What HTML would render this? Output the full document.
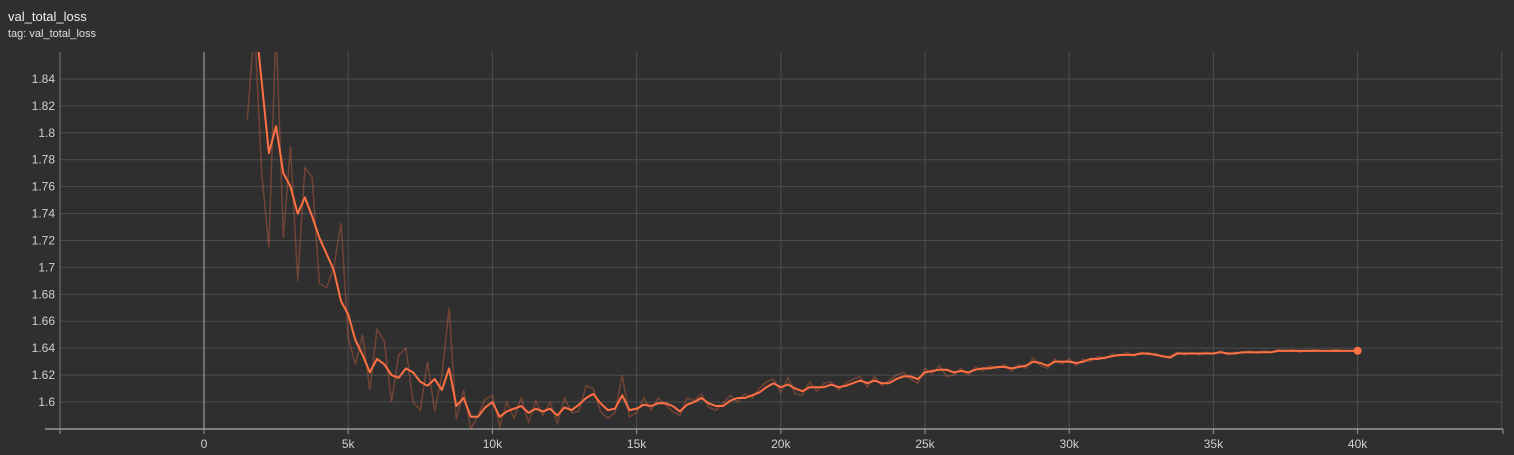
<!DOCTYPE html>
<html><head><meta charset="utf-8">
<style>
html,body{margin:0;padding:0;background:#2f2f2f;width:1514px;height:455px;overflow:hidden;font-family:"Liberation Sans",sans-serif}
#title{position:absolute;left:8px;top:9px;color:#f0f0f0;font-size:13px}
#sub{position:absolute;left:8px;top:28px;color:#e0e0e0;font-size:11px}
svg{position:absolute;left:0;top:0}
</style></head><body>
<div id="title">val_total_loss</div>
<div id="sub">tag: val_total_loss</div>
<svg id="chart" width="1514" height="455"></svg>
<script>
const STEP0 = 1500;
const STEP_DT = 250;
const smoothed = [1.95,1.89,1.838,1.785,1.805,1.77,1.76,1.74,1.752,1.738,1.722,1.71,1.698,1.675,1.665,1.646,1.635,1.622,1.632,1.628,1.62,1.618,1.625,1.622,1.615,1.612,1.617,1.609,1.625,1.597,1.603,1.589,1.589,1.596,1.6,1.589,1.593,1.595,1.597,1.592,1.595,1.593,1.595,1.59,1.596,1.594,1.598,1.603,1.606,1.599,1.594,1.595,1.605,1.594,1.595,1.598,1.597,1.599,1.599,1.597,1.593,1.598,1.6,1.603,1.599,1.597,1.597,1.601,1.603,1.603,1.605,1.607,1.611,1.614,1.611,1.613,1.61,1.608,1.611,1.611,1.611,1.613,1.611,1.612,1.614,1.616,1.614,1.616,1.614,1.614,1.617,1.619,1.619,1.617,1.622,1.623,1.624,1.624,1.622,1.623,1.622,1.624,1.625,1.625,1.626,1.626,1.625,1.626,1.627,1.63,1.629,1.627,1.63,1.63,1.63,1.629,1.63,1.632,1.632,1.633,1.634,1.635,1.635,1.635,1.636,1.636,1.635,1.634,1.633,1.636,1.636,1.636,1.636,1.636,1.636,1.637,1.636,1.636,1.637,1.637,1.637,1.637,1.637,1.638,1.638,1.638,1.638,1.638,1.638,1.638,1.638,1.638,1.638,1.638,1.638];
const raw = [1.81,1.88,1.77,1.715,1.88,1.722,1.79,1.69,1.774,1.767,1.688,1.685,1.7,1.733,1.648,1.628,1.65,1.609,1.654,1.645,1.6,1.635,1.64,1.6,1.594,1.63,1.593,1.62,1.67,1.587,1.609,1.58,1.59,1.602,1.605,1.582,1.6,1.588,1.603,1.585,1.601,1.59,1.6,1.584,1.603,1.592,1.593,1.612,1.61,1.593,1.588,1.592,1.62,1.589,1.592,1.603,1.594,1.603,1.598,1.593,1.59,1.603,1.601,1.606,1.596,1.594,1.599,1.605,1.6,1.606,1.603,1.61,1.615,1.617,1.607,1.618,1.606,1.605,1.615,1.608,1.614,1.615,1.609,1.614,1.617,1.619,1.611,1.619,1.612,1.616,1.62,1.622,1.617,1.614,1.625,1.621,1.627,1.619,1.62,1.625,1.62,1.626,1.623,1.627,1.625,1.628,1.623,1.628,1.625,1.633,1.627,1.625,1.632,1.628,1.632,1.627,1.632,1.63,1.634,1.632,1.636,1.634,1.637,1.634,1.637,1.635,1.636,1.633,1.634,1.637,1.635,1.637,1.635,1.637,1.636,1.638,1.635,1.637,1.636,1.638,1.636,1.638,1.637,1.639,1.638,1.639,1.637,1.638,1.639,1.638,1.638,1.639,1.638,1.638,1.638];
const xTickValues = [0,5000,10000,15000,20000,25000,30000,35000,40000];
const xTickLabels = ["0","5k","10k","15k","20k","25k","30k","35k","40k"];
const yTickValues = [1.6,1.62,1.64,1.66,1.68,1.7,1.72,1.74,1.76,1.78,1.8,1.82,1.84];
const yTickLabels = ["1.6","1.62","1.64","1.66","1.68","1.7","1.72","1.74","1.76","1.78","1.8","1.82","1.84"];

const L=60,R=1503,T=52,B=429;
function xs(v){return 204+(v/5000)*144.2;}
function ys(v){return 402+(1.6-v)/0.02*26.92;}
const NS='http://www.w3.org/2000/svg';
const svg=document.getElementById('chart');
function mk(tag,attrs,parent){const e=document.createElementNS(NS,tag);for(const k in attrs)e.setAttribute(k,attrs[k]);(parent||svg).appendChild(e);return e;}

const defs=mk('defs',{});
const cp=mk('clipPath',{id:'clip'},defs);
mk('rect',{x:L,y:T,width:R-L,height:B-T},cp);

yTickValues.forEach((v,i)=>{
  const g=mk('line',{x1:L,x2:R,y1:ys(v),y2:ys(v),stroke:'#4d4d4d','stroke-width':1});
  
  
  const t=mk('text',{x:L-5,y:ys(v)+4,'text-anchor':'end',fill:'#d0d0d0','font-size':'12','font-family':'Liberation Sans, sans-serif'});
  t.textContent=yTickLabels[i];
  
  
});
const vgrid=[5000,10000,15000,20000,25000,30000,35000,40000,45000];
vgrid.forEach(v=>{
  const g=mk('line',{x1:xs(v),x2:xs(v),y1:T,y2:B,stroke:'#4d4d4d','stroke-width':1});
  
  
});
const z=mk('line',{x1:xs(0),x2:xs(0),y1:T,y2:B,stroke:'#9a9a9a','stroke-width':1.2});


const ya=mk('line',{x1:L,x2:L,y1:T,y2:B,stroke:'#777','stroke-width':1});


const xa=mk('line',{x1:L-15,x2:R,y1:B,y2:B,stroke:'#999','stroke-width':1.5});


[L].concat(xTickValues.map(xs)).concat([R]).forEach(px=>{
  const tk=mk('line',{x1:px,x2:px,y1:B,y2:B+5,stroke:'#999','stroke-width':1});
  
  
});
xTickValues.forEach((v,i)=>{
  const t=mk('text',{x:xs(v),y:B+19,'text-anchor':'middle',fill:'#d0d0d0','font-size':'12','font-family':'Liberation Sans, sans-serif'});
  t.textContent=xTickLabels[i];
  
  
});

const n=Math.min(smoothed.length,raw.length);
function pathOf(arr){let d='';for(let i=0;i<n;i++){const s=STEP0+i*STEP_DT;d+=(i?'L':'M')+xs(s).toFixed(1)+','+ys(arr[i]).toFixed(1);}return d;}
const gp=mk('g',{'clip-path':'url(#clip)'});
const rp=mk('path',{d:pathOf(raw),fill:'none',stroke:'rgba(255,112,67,0.32)','stroke-width':1.5},gp);


const sp=mk('path',{d:pathOf(smoothed),fill:'none',stroke:'#ff7043','stroke-width':2,'stroke-linejoin':'round'},gp);


const last=n-1;
const dot=mk('circle',{cx:xs(STEP0+last*STEP_DT),cy:ys(smoothed[last]),r:4,fill:'#ff7043'});


</script>
</body></html>
